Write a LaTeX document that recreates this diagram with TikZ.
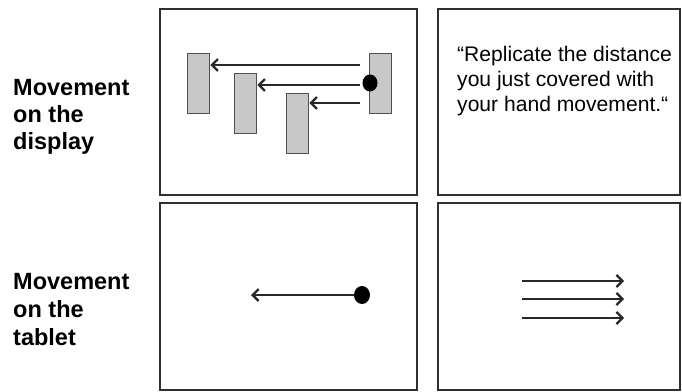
\documentclass[tikz,border=0pt]{standalone}
\usepackage{fontspec}
\setmainfont{Liberation Sans}
\usetikzlibrary{arrows.meta}
\definecolor{frame}{HTML}{303030}
\definecolor{barfill}{HTML}{C8C8C8}
\definecolor{barline}{HTML}{505050}
\definecolor{arr}{HTML}{282828}
\begin{document}
\begin{tikzpicture}[x=1pt,y=-1pt,
  panel/.style={draw=frame,line width=1.5pt},
  bar/.style={draw=barline,fill=barfill,line width=1.3pt,minimum width=22pt,minimum height=60pt,inner sep=0pt,anchor=north west},
  mv/.style={draw=arr,line width=1.6pt,-{Straight Barb[length=6pt,width=12pt,line width=2.3pt]}},
  lbl/.style={anchor=base west,inner sep=0pt,font=\fontsize{23.5}{27}\selectfont\bfseries},
  quote/.style={anchor=base west,inner sep=0pt,font=\fontsize{21.1}{25}\selectfont}]
\useasboundingbox[fill=white] (0,0) rectangle (682,391);
% panels
\draw[panel] (160,9) rectangle (417,195);
\draw[panel] (438,9) rectangle (680,195);
\draw[panel] (160,203) rectangle (417,390);
\draw[panel] (438,203) rectangle (680,390);
% left labels
\node[lbl] (l1) at (13,95) {Movement};
\node[lbl] (l2) at (13,122) {on the};
\node[lbl] (l3) at (13,149) {display};
\node[lbl] (l4) at (13,289) {Movement};
\node[lbl] (l5) at (13,317) {on the};
\node[lbl] (l6) at (13,345) {tablet};
% bars on the display
\node[bar] (b1) at (187,53) {};
\node[bar] (b2) at (234,73) {};
\node[bar] (b3) at (286,93) {};
\node[bar] (b4) at (369,53) {};
\fill (370,83) ellipse (7.5pt and 8.5pt);
\coordinate (s1) at (360,65);
\coordinate (s2) at (360,85);
\coordinate (s3) at (360,103);
\draw[mv] (s1) -- (b1.east |- s1);
\draw[mv] (s2) -- (b2.east |- s2);
\draw[mv] (s3) -- (b3.east |- s3);
% quote
\node[quote] (q1) at (457,61) {“Replicate the distance};
\node[quote] (q2) at (457,86) {you just covered with};
\node[quote] (q3) at (457,111) {your hand movement.“};
% tablet movement
\coordinate (td) at (362,295);
\coordinate (tt) at (251,295);
\draw[mv] (td) -- (tt);
\fill (td) ellipse (8pt and 9pt);
% replication arrows
\coordinate (r1s) at (522,281);
\coordinate (r1e) at (624,281);
\coordinate (r2s) at (522,299);
\coordinate (r2e) at (624,299);
\coordinate (r3s) at (522,318);
\coordinate (r3e) at (624,318);
\draw[mv] (r1s) -- (r1e);
\draw[mv] (r2s) -- (r2e);
\draw[mv] (r3s) -- (r3e);
\end{tikzpicture}
\end{document}
